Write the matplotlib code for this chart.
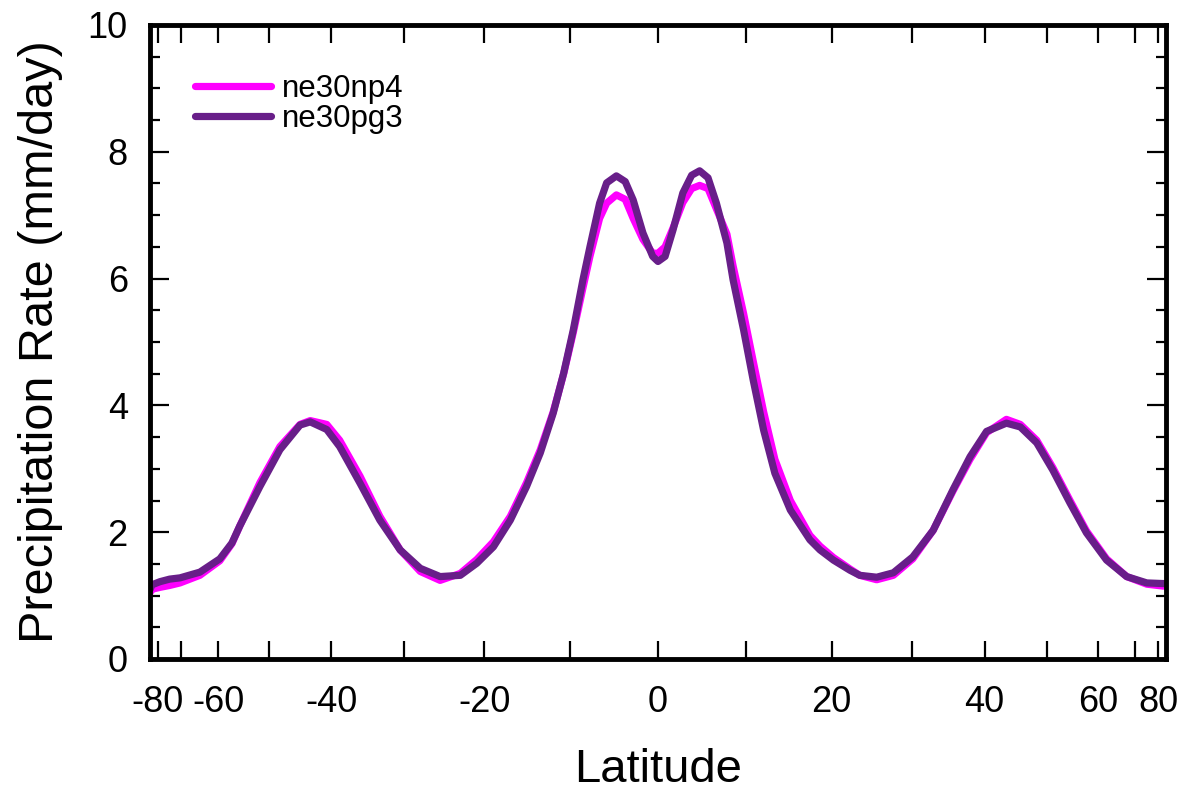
import numpy as np
import matplotlib
matplotlib.use('Agg')
import matplotlib.pyplot as plt
from matplotlib.ticker import MultipleLocator, FixedLocator, FixedFormatter

plt.rcParams['font.family'] = ['Liberation Sans', 'DejaVu Sans']
plt.rcParams['axes.unicode_minus'] = False

# zonal mean precipitation
lat_pg3 = [-88.5, -85, -78.6, -74, -70.2, -64.4, -59.6, -57, -55.4, -51.6, -48.1, -44.8,
           -43.2, -40.7, -38.8, -35.9, -33.2, -30.5, -27.9, -25.4, -22.9, -20.9, -18.9,
           -16.9, -15.0, -13.4, -11.9, -10.7, -9.6, -8.5, -7.7, -6.6, -5.8, -4.7, -3.7,
           -2.8, -1.7, -0.6, 0.0, 0.8, 1.7, 2.8, 3.8, 4.7, 5.65, 6.6, 7.8, 8.5, 9.7, 10.8,
           12.0, 13.3, 15.1, 17.4, 18.6, 20.2, 22.2, 23.4, 25.5, 27.6, 30.1, 32.8, 35.5,
           37.9, 40.3, 43.3, 45.5, 48.2, 51.0, 54.2, 57.5, 62.0, 67.3, 74.2, 83.7, 88.5]
pr_pg3 = [1.10, 1.17, 1.22, 1.26, 1.28, 1.37, 1.58, 1.83, 2.10, 2.72, 3.30, 3.69,
          3.74, 3.62, 3.35, 2.77, 2.19, 1.72, 1.43, 1.30, 1.32, 1.51, 1.77,
          2.19, 2.72, 3.25, 3.88, 4.51, 5.19, 5.98, 6.50, 7.19, 7.51, 7.62, 7.53,
          7.24, 6.72, 6.35, 6.27, 6.35, 6.77, 7.35, 7.63, 7.70, 7.59, 7.19, 6.56, 5.98, 5.19, 4.40,
          3.61, 2.93, 2.35, 1.88, 1.72, 1.56, 1.40, 1.32, 1.29, 1.36, 1.61, 2.03, 2.67,
          3.19, 3.59, 3.72, 3.66, 3.41, 2.98, 2.46, 1.99, 1.56, 1.30, 1.20, 1.19, 1.19]

lat_np4 = lat_pg3
pr_np4 = [1.05, 1.10, 1.13, 1.16, 1.20, 1.32, 1.55, 1.82, 2.10, 2.78, 3.35, 3.70,
          3.76, 3.70, 3.45, 2.88, 2.25, 1.72, 1.38, 1.24, 1.35, 1.57, 1.85,
          2.25, 2.78, 3.30, 3.90, 4.50, 5.15, 5.85, 6.35, 6.95, 7.19, 7.32, 7.25,
          6.95, 6.62, 6.40, 6.40, 6.50, 6.80, 7.20, 7.42, 7.47, 7.42, 7.10, 6.70, 6.20, 5.45, 4.70,
          3.90, 3.15, 2.50, 1.95, 1.78, 1.60, 1.42, 1.32, 1.25, 1.32, 1.58, 2.03, 2.65,
          3.15, 3.57, 3.78, 3.70, 3.45, 3.02, 2.50, 2.02, 1.58, 1.30, 1.18, 1.15, 1.15]

labels = ['ne30np4', 'ne30pg3']
colors = ['#ff00ff', '#681e89']

xticks = list(range(-80, 90, 10))
xticklabels = [str(t) if t % 20 == 0 else '' for t in xticks]


def fwd(x):
    return np.sin(np.deg2rad(x))


def inv(s):
    return np.rad2deg(np.arcsin(np.clip(s, -1, 1)))


fig = plt.figure(figsize=(11.9, 7.92), dpi=100)
ax = fig.add_axes([150 / 1190, 1 - 659 / 792, 1016 / 1190, 634 / 792])
ax.set_xscale('function', functions=(fwd, inv))

ax.plot(lat_np4, pr_np4, color=colors[0], lw=5.2, label=labels[0],
        solid_capstyle='round', solid_joinstyle='round')
ax.plot(lat_pg3, pr_pg3, color=colors[1], lw=5.2, label=labels[1],
        solid_capstyle='round', solid_joinstyle='round')

ax.set_xlim(-90, 90)
ax.set_ylim(0, 10)
ax.xaxis.set_major_locator(FixedLocator(xticks))
ax.xaxis.set_major_formatter(FixedFormatter(xticklabels))
ax.xaxis.set_minor_locator(FixedLocator([]))
ax.yaxis.set_major_locator(MultipleLocator(2))
ax.yaxis.set_minor_locator(MultipleLocator(0.5))

for s in ax.spines.values():
    s.set_linewidth(3.5)
ax.tick_params(which='both', direction='in', top=True, right=True, width=1.6)
ax.tick_params(axis='x', which='major', length=13, labelsize=26, pad=19)
ax.tick_params(axis='y', which='major', length=14, labelsize=26, pad=16)
ax.tick_params(axis='y', which='minor', length=7)

ax.set_xlabel('Latitude', fontsize=34, labelpad=20)
ax.set_ylabel('Precipitation Rate (mm/day)', fontsize=35, labelpad=18)

ax.legend(loc='upper left', bbox_to_anchor=(0.044, 0.923), frameon=False, fontsize=22.5,
          handlelength=2.45, handletextpad=0.35, labelspacing=0.0, borderpad=0,
          borderaxespad=0)

fig.savefig('out.png', dpi=100)
